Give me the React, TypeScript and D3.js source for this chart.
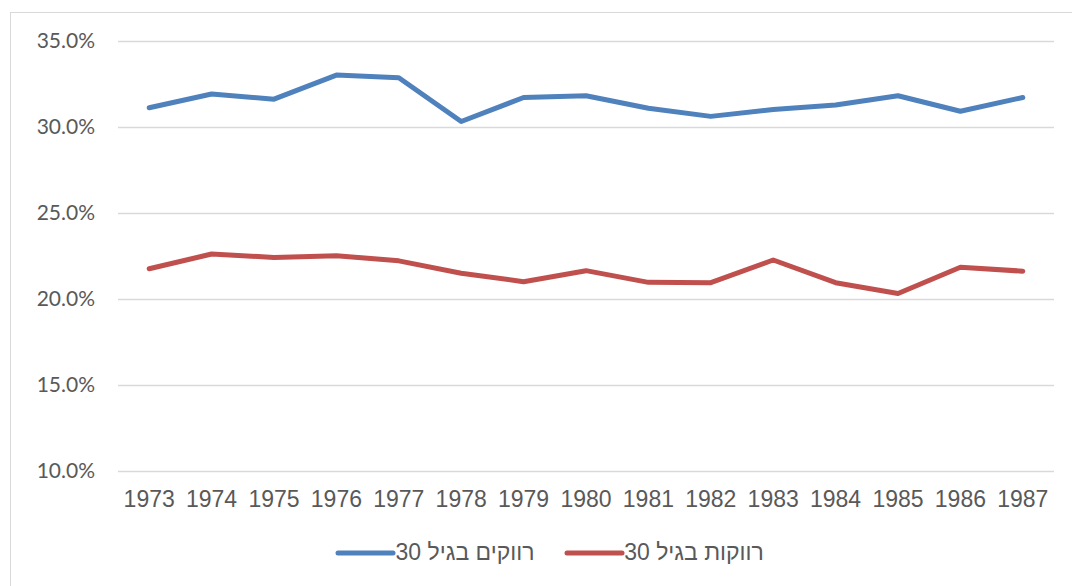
import React from "react";
import * as d3 from "d3";

const years = ["1973","1974","1975","1976","1977","1978","1979","1980","1981","1982","1983","1984","1985","1986","1987"];
const menValues = [0.311,0.319,0.316,0.330,0.3285,0.303,0.317,0.318,0.3107,0.306,0.310,0.3126,0.318,0.309,0.317];
const womenValues = [0.2174,0.226,0.224,0.225,0.222,0.2148,0.2099,0.2163,0.2095,0.2093,0.2225,0.2093,0.203,0.2183,0.216];
const yTicks = [0.10,0.15,0.20,0.25,0.30,0.35];
const seriesNames = ["רווקים בגיל 30","רווקות בגיל 30"];
const seriesColors = ["#4F81BD","#C0504D"];

export default function App() {
  const W = 1072, H = 586;
  const x = d3.scaleBand<string>().domain(years).range([118, 1054]);
  const cx = (d: string) => (x(d) as number) + x.bandwidth() / 2;
  const y = d3.scaleLinear().domain([0.10, 0.35]).range([470.7, 40.7]);
  const line = d3.line<number>().x((_, i) => cx(years[i])).y((v) => y(v));
  const fmt = d3.format(".1%");
  const series = [menValues, womenValues];
  const legend = [
    { lx1: 338, lx2: 393, tx: 465 },
    { lx1: 567, lx2: 622, tx: 694 },
  ];
  return (
    <svg width={W} height={H} style={{ position: "absolute", left: 0, top: 0, background: "#fff" }}>
      <rect x={10.5} y={12.5} width={W + 10} height={H + 10} fill="#fff" stroke="#D9D9D9" strokeWidth={1} />
      {yTicks.map((t) => (
        <g key={t}>
          <line x1={118} x2={1054} y1={Math.round(y(t)) + 0.5} y2={Math.round(y(t)) + 0.5} stroke="#D9D9D9" strokeWidth={1.3} />
          <text x={95} y={y(t) + 7.5} textAnchor="end" fontFamily="Lato" fontSize={21} fill="#595959">{fmt(t)}</text>
        </g>
      ))}
      {years.map((yr) => (
        <text key={yr} x={cx(yr)} y={507} textAnchor="middle" fontFamily="Liberation Sans" fontSize={23} fill="#595959">{yr}</text>
      ))}
      {series.map((s, i) => (
        <path key={i} d={line(s) as string} fill="none" stroke={seriesColors[i]} strokeWidth={5} strokeLinecap="round" strokeLinejoin="round" />
      ))}
      {legend.map((l, i) => (
        <g key={i}>
          <line x1={l.lx1} x2={l.lx2} y1={553} y2={553} stroke={seriesColors[i]} strokeWidth={5} strokeLinecap="round" />
          <text x={l.tx} y={560} textAnchor="middle" direction="rtl" style={{ unicodeBidi: "embed" }} fontFamily="Liberation Sans" fontSize={23} fill="#595959">{seriesNames[i]}</text>
        </g>
      ))}
    </svg>
  );
}
